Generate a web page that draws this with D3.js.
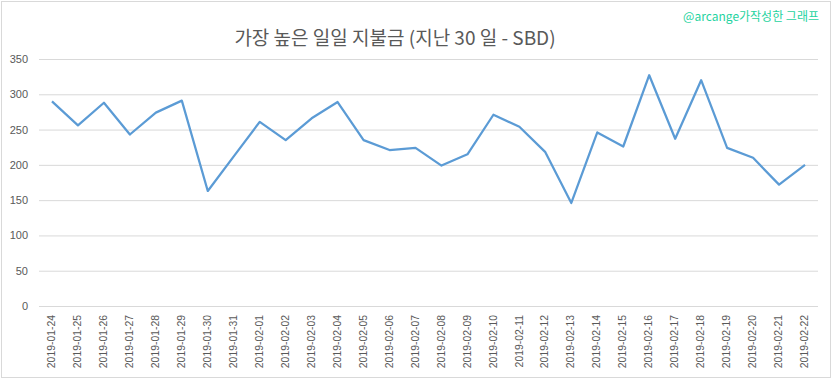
<!DOCTYPE html>
<html>
<head>
<meta charset="utf-8">
<script src="https://cdn.jsdelivr.net/npm/d3@7"></script>
<style>
  body { margin: 0; background: #fff; }
  text { font-family: "Liberation Sans", Arial, sans-serif; }
</style>
</head>
<body>
<div id="chart"></div>
<script>
// data
var dates = ["2019-01-24", "2019-01-25", "2019-01-26", "2019-01-27", "2019-01-28", "2019-01-29",
  "2019-01-30", "2019-01-31", "2019-02-01", "2019-02-02", "2019-02-03", "2019-02-04",
  "2019-02-05", "2019-02-06", "2019-02-07", "2019-02-08", "2019-02-09", "2019-02-10",
  "2019-02-11", "2019-02-12", "2019-02-13", "2019-02-14", "2019-02-15", "2019-02-16",
  "2019-02-17", "2019-02-18", "2019-02-19", "2019-02-20", "2019-02-21", "2019-02-22"];
var payouts = [290, 256, 288, 243, 274, 291, 163, 212, 261, 235, 266, 289, 235, 221, 224,
  199, 215, 271, 254, 218, 146, 246, 226, 327, 237, 320, 224, 210, 172, 200];
var yTicks = [0, 50, 100, 150, 200, 250, 300, 350];
var title = "가장 높은 일일 지불금 (지난 30 일 - SBD)";
var credit = "@arcange가작성한 그래프";

var W = 833, H = 379;
var margin = {top: 59, right: 15, bottom: 73, left: 39};
var width = W - margin.left - margin.right;
var height = H - margin.top - margin.bottom;

var svg = d3.select("#chart").append("svg")
    .attr("width", W)
    .attr("height", H);

// outer border
svg.append("rect")
    .attr("x", 1.5).attr("y", 1.5)
    .attr("width", W - 4).attr("height", H - 3)
    .attr("fill", "#fff")
    .attr("stroke", "#d9d9d9");

var g = svg.append("g")
    .attr("transform", "translate(" + margin.left + "," + margin.top + ")");

var x = d3.scaleBand()
    .domain(dates)
    .range([0, width]);

var y = d3.scaleLinear()
    .domain([0, 350])
    .range([height, 0]);

// gridlines + y labels
var yAxis = g.append("g")
    .call(d3.axisLeft(y).tickValues(yTicks).tickSize(-width).tickPadding(11));
yAxis.select(".domain").remove();
yAxis.selectAll(".tick line").attr("stroke", "#d9d9d9");
yAxis.selectAll(".tick text")
    .attr("fill", "#595959")
    .style("font-size", "11px");

// x labels
var xAxis = g.append("g")
    .attr("transform", "translate(0," + height + ")")
    .call(d3.axisBottom(x).tickSize(0));
xAxis.select(".domain").remove();
xAxis.selectAll(".tick text")
    .attr("fill", "#595959")
    .style("font-size", "10.4px")
    .attr("text-anchor", "end")
    .attr("transform", "translate(-0.5,9) rotate(-90)")
    .attr("x", 0).attr("y", 0).attr("dy", "0.35em");

// line
var line = d3.line()
    .x(function(d, i) { return x(dates[i]) + x.bandwidth() / 2; })
    .y(function(d) { return y(d); });

g.append("path")
    .datum(payouts)
    .attr("d", line)
    .attr("fill", "none")
    .attr("stroke", "#5b9bd5")
    .attr("stroke-width", 2.25)
    .attr("stroke-linejoin", "round");

// title
svg.append("text")
    .attr("x", 395)
    .attr("y", 45)
    .attr("text-anchor", "middle")
    .attr("fill", "#595959")
    .style("font-family", "'Noto Sans CJK KR', sans-serif")
    .style("font-size", "19px")
    .text(title);

// credit
svg.append("text")
    .attr("x", 819)
    .attr("y", 21)
    .attr("text-anchor", "end")
    .attr("fill", "#1fd3a0")
    .style("font-family", "'Noto Sans CJK KR', sans-serif")
    .style("font-size", "12px")
    .text(credit);
</script>
</body>
</html>
